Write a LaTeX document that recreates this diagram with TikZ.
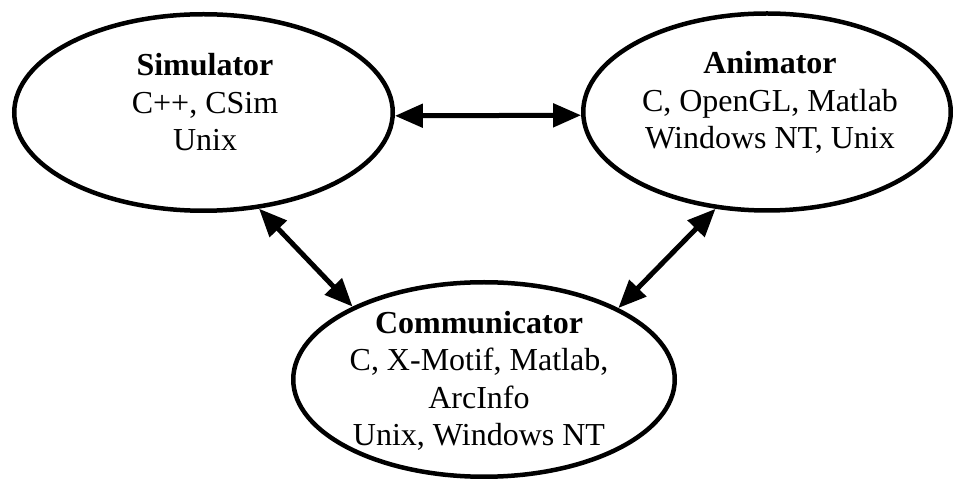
\documentclass[tikz,border=0pt]{standalone}
\usepackage{fontspec}
\setmainfont{Liberation Serif}
\usetikzlibrary{shapes.geometric,arrows.meta}

\tikzset{
  unit/.style={draw,ellipse,line width=4.5pt,inner sep=0pt},
  txt/.style={align=center,font=\fontsize{32}{37.5}\selectfont},
  link/.style={{Triangle[length=28pt,width=23pt]}-{Triangle[length=28pt,width=23pt]},line width=5pt}
}

\begin{document}
\begin{tikzpicture}[x=1pt,y=1pt]
\useasboundingbox (0,0) rectangle (953,479);
\coordinate (S) at (203.5,366.5);
\coordinate (A) at (767,367);
\coordinate (C) at (484,99.5);
\node[unit,minimum width=378.5pt,minimum height=196.5pt] (sim) at (S) {};
\node[unit,minimum width=367.5pt,minimum height=197pt] (ani) at (A) {};
\node[unit,minimum width=381.5pt,minimum height=194.5pt] (com) at (C) {};
\node[txt] (simtxt) at (205,376.5) {\textbf{Simulator}\\C++, CSim\\Unix};
\node[txt] (anitxt) at (770,376.5) {\textbf{Animator}\\C, OpenGL, Matlab\\Windows NT, Unix};
\node[txt] (comtxt) at (479,98) {\textbf{Communicator}\\C, X-Motif, Matlab,\\ArcInfo\\Unix, Windows NT};
\draw[link] (sim.-1) -- (ani.181);
\draw[link] (sim.-60) -- (com.151);
\draw[link] (ani.-118) -- (com.28);


\end{tikzpicture}
\end{document}
